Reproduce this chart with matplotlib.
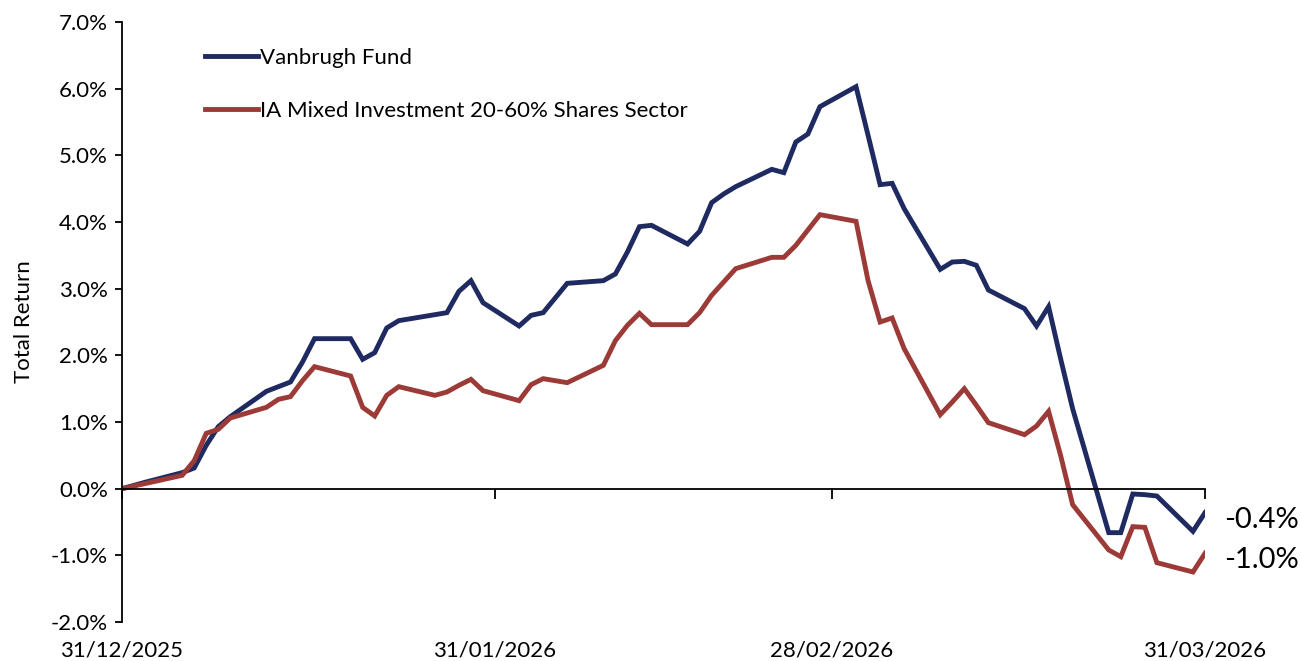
import numpy as np
import matplotlib.pyplot as plt
import matplotlib.dates as mdates
import matplotlib.transforms as mtransforms

plt.rcParams['font.family'] = ['Lato', 'DejaVu Sans']

# trading days, 31 Dec 2025 to 31 Mar 2026
dates = np.array([
    '2025-12-31', '2026-01-02',
    '2026-01-05', '2026-01-06', '2026-01-07', '2026-01-08', '2026-01-09',
    '2026-01-12', '2026-01-13', '2026-01-14', '2026-01-15', '2026-01-16',
    '2026-01-19', '2026-01-20', '2026-01-21', '2026-01-22', '2026-01-23',
    '2026-01-26', '2026-01-27', '2026-01-28', '2026-01-29', '2026-01-30',
    '2026-02-02', '2026-02-03', '2026-02-04', '2026-02-05', '2026-02-06',
    '2026-02-09', '2026-02-10', '2026-02-11', '2026-02-12', '2026-02-13',
    '2026-02-16', '2026-02-17', '2026-02-18', '2026-02-19', '2026-02-20',
    '2026-02-23', '2026-02-24', '2026-02-25', '2026-02-26', '2026-02-27',
    '2026-03-02', '2026-03-03', '2026-03-04', '2026-03-05', '2026-03-06',
    '2026-03-09', '2026-03-10', '2026-03-11', '2026-03-12', '2026-03-13',
    '2026-03-16', '2026-03-17', '2026-03-18', '2026-03-19', '2026-03-20',
    '2026-03-23', '2026-03-24', '2026-03-25', '2026-03-26', '2026-03-27',
    '2026-03-30', '2026-03-31'], dtype='datetime64[D]')

fund = [0.00, 0.10,
        0.24, 0.31, 0.65, 0.93, 1.08,
        1.46, 1.53, 1.60, 1.90, 2.25,
        2.25, 1.94, 2.04, 2.41, 2.52,
        2.61, 2.64, 2.96, 3.12, 2.79,
        2.44, 2.60, 2.64, 2.86, 3.08,
        3.12, 3.22, 3.55, 3.93, 3.95,
        3.67, 3.86, 4.29, 4.42, 4.53,
        4.79, 4.74, 5.20, 5.32, 5.73,
        6.03, 5.30, 4.56, 4.58, 4.20,
        3.29, 3.40, 3.41, 3.35, 2.98,
        2.70, 2.44, 2.73, 1.95, 1.20,
        -0.66, -0.66, -0.08, -0.09, -0.11,
        -0.64, -0.36]

sector = [0.00, 0.08,
          0.20, 0.42, 0.83, 0.89, 1.06,
          1.22, 1.34, 1.38, 1.62, 1.83,
          1.69, 1.22, 1.09, 1.40, 1.53,
          1.40, 1.45, 1.55, 1.64, 1.47,
          1.32, 1.56, 1.65, 1.62, 1.59,
          1.85, 2.22, 2.45, 2.63, 2.46,
          2.46, 2.64, 2.90, 3.10, 3.30,
          3.47, 3.47, 3.65, 3.88, 4.11,
          4.01, 3.12, 2.50, 2.56, 2.10,
          1.11, 1.30, 1.50, 1.25, 0.99,
          0.81, 0.94, 1.16, 0.50, -0.24,
          -0.92, -1.02, -0.57, -0.58, -1.11,
          -1.25, -0.97]

tick_dates = np.array(['2025-12-31', '2026-01-31', '2026-02-28', '2026-03-31'],
                      dtype='datetime64[D]')
tick_labels = ['31/12/2025', '31/01/2026', '28/02/2026', '31/03/2026']
y_ticks = np.arange(-2, 8, 1)

navy = '#1f2a60'
red = '#9c3a37'

fig = plt.figure(figsize=(13.01, 6.61), dpi=100)
ax = fig.add_axes([122 / 1301, 39 / 661, (1205 - 122) / 1301, 600 / 661])

ax.plot(dates, fund, color=navy, lw=3.5, label='Vanbrugh Fund', solid_joinstyle='miter')
ax.plot(dates, sector, color=red, lw=3.5, label='IA Mixed Investment 20-60% Shares Sector',
        solid_joinstyle='miter')

ax.set_xlim(dates[0], dates[-1])
ax.set_ylim(-2, 7)

ax.spines['top'].set_visible(False)
ax.spines['right'].set_visible(False)
ax.spines['bottom'].set_position(('data', 0))
ax.spines['left'].set_linewidth(1.3)
ax.spines['bottom'].set_linewidth(1.3)

ax.set_yticks(y_ticks)
ax.set_yticklabels(['%.1f%%' % v for v in y_ticks], fontsize=16)
ax.tick_params(axis='y', length=5, width=1.3, pad=5)

ax.set_xticks(tick_dates)
ax.set_xticklabels([''] * len(tick_dates))
ax.tick_params(axis='x', length=7, width=1.3)
trans = mtransforms.blended_transform_factory(ax.transData, ax.transAxes)
for d, lab in zip(tick_dates, tick_labels):
    ax.text(mdates.date2num(d), -0.048, lab, transform=trans, ha='center', va='center',
            fontsize=16)

ax.set_ylabel('Total Return', fontsize=16, labelpad=12)

ax.legend(loc='upper left', bbox_to_anchor=(0.068, 0.972), frameon=False, fontsize=16,
          borderaxespad=0, handlelength=2.4, handletextpad=0.1, labelspacing=1.5)

# end-point labels
for series in (fund, sector):
    ax.annotate('%.1f%%' % series[-1], (mdates.date2num(dates[-1]), series[-1]),
                xytext=(14, -5), textcoords='offset points', va='center', fontsize=21,
                annotation_clip=False)

fig.savefig('out.png', dpi=100)
